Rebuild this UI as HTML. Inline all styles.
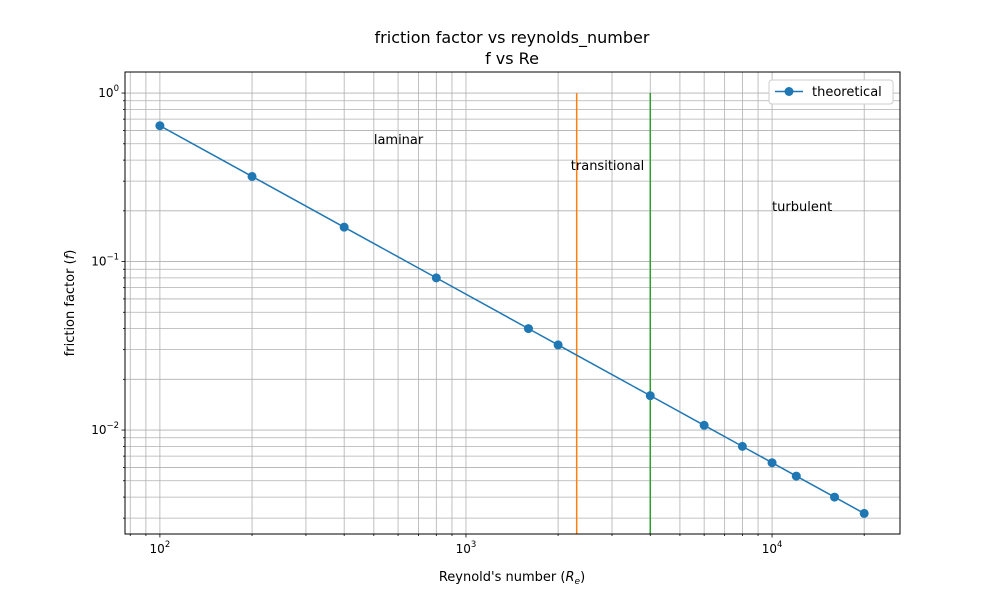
<!DOCTYPE html>
<html><head><meta charset="utf-8"><style>
body{margin:0;background:#fff;font-family:"Liberation Sans","DejaVu Sans",sans-serif}
svg text{font-family:"DejaVu Sans","Liberation Sans",sans-serif}
</style></head><body>
<svg id="c" width="1000" height="600" xmlns="http://www.w3.org/2000/svg"></svg>
<script>
const reynolds = [100,200,400,800,1600,2000,4000,6000,8000,10000,12000,16000,20000];
const friction = [0.64,0.32,0.16,0.08,0.04,0.032,0.016,0.01067,0.008,0.0064,0.00533,0.004,0.0032];
const vlinesX = [2300,4000];
const vlineColors = ['#ff7f0e','#2ca02c'];
const annotations = ['laminar','transitional','turbulent'];
const annotX = [500,2200,10000];
const annotY = [0.5,0.35,0.2];
const xTickExp = [2,3,4];
const yTickExp = [0,-1,-2];

const L=125,R=900,T=72,B=534;
const xmin=1.886,xmax=4.418,ymin=-2.617,ymax=0.125;
const X=v=>L+(Math.log10(v)-xmin)/(xmax-xmin)*(R-L);
const Y=v=>B-(Math.log10(v)-ymin)/(ymax-ymin)*(B-T);
const svg=document.getElementById('c');
const NS='http://www.w3.org/2000/svg';
function el(t,a,p){const e=document.createElementNS(NS,t);for(const k in a)e.setAttribute(k,a[k]);(p||svg).appendChild(e);return e;}

const grid=el('g',{});


for(let d=1;d<=4;d++)for(let m=1;m<10;m++){const v=m*Math.pow(10,d);const x=X(v);if(x<L||x>R)continue;
 el('line',{x1:x,x2:x,y1:T,y2:B,stroke:'#b0b0b0','stroke-width':0.8},grid);
 el('line',{x1:x,x2:x,y1:B,y2:B+(m==1?3.5:2),stroke:'#000','stroke-width':0.8});}
for(let d=-3;d<=0;d++)for(let m=1;m<10;m++){const v=m*Math.pow(10,d);const y=Y(v);if(y<T||y>B)continue;
 el('line',{x1:L,x2:R,y1:y,y2:y,stroke:'#b0b0b0','stroke-width':0.8},grid);
 el('line',{x1:L,x2:L-(m==1?3.5:2),y1:y,y2:y,stroke:'#000','stroke-width':0.8});}

xTickExp.forEach(e=>{const t=el('text',{x:X(Math.pow(10,e)),y:B+19,'font-size':12,'text-anchor':'middle'});
 
 t.innerHTML='10<tspan dy="-6" font-size="8.5">'+e+'</tspan>';});
yTickExp.forEach(e=>{const t=el('text',{x:L-6,y:Y(Math.pow(10,e))+4,'font-size':12,'text-anchor':'end'});
 
 t.innerHTML='10<tspan dy="-6" font-size="8.5">'+(e<0?'\u2212'+(-e):e)+'</tspan>';});

vlinesX.forEach((v,i)=>{const l=el('line',{x1:X(v),x2:X(v),y1:Y(1),y2:B,stroke:vlineColors[i],'stroke-width':1.5});
 });

const pts=reynolds.map((r,i)=>X(r)+','+Y(friction[i])).join(' ');
const line=el('polyline',{points:pts,fill:'none',stroke:'#1f77b4','stroke-width':1.5});

reynolds.forEach((r,i)=>{const c=el('circle',{cx:X(r),cy:Y(friction[i]),r:4.5,fill:'#1f77b4'});
 });

annotations.forEach((s,i)=>{const t=el('text',{x:X(annotX[i]),y:Y(annotY[i]),'font-size':13});t.textContent=s;
 });

const fr=el('rect',{x:L,y:T,width:R-L,height:B-T,fill:'none',stroke:'#000','stroke-width':1});


const lg=el('g',{});

el('rect',{x:769,y:80,width:124,height:24,rx:3,fill:'#fff',stroke:'#ccc'},lg);
el('line',{x1:775,x2:803,y1:91.5,y2:91.5,stroke:'#1f77b4','stroke-width':1.5},lg);
el('circle',{cx:789,cy:91.5,r:4.5,fill:'#1f77b4'},lg);
const lt=el('text',{x:812,y:96,'font-size':13},lg);lt.textContent='theoretical';

let t=el('text',{x:512,y:43,'font-size':16,'text-anchor':'middle'});t.textContent='friction factor vs reynolds_number';

t=el('text',{x:512,y:64,'font-size':16,'text-anchor':'middle'});t.textContent='f vs Re';

t=el('text',{x:512,y:581,'font-size':13,'text-anchor':'middle'});
t.innerHTML="Reynold's number (<tspan font-style='italic'>R</tspan><tspan font-style='italic' font-size='9' dy='3'>e</tspan><tspan dy='-3'>)</tspan>";

t=el('text',{x:0,y:0,'font-size':13,'text-anchor':'middle',transform:'translate(74,303) rotate(-90)'});
t.innerHTML="friction factor (<tspan font-style='italic'>f</tspan>)";

</script>
</body></html>
